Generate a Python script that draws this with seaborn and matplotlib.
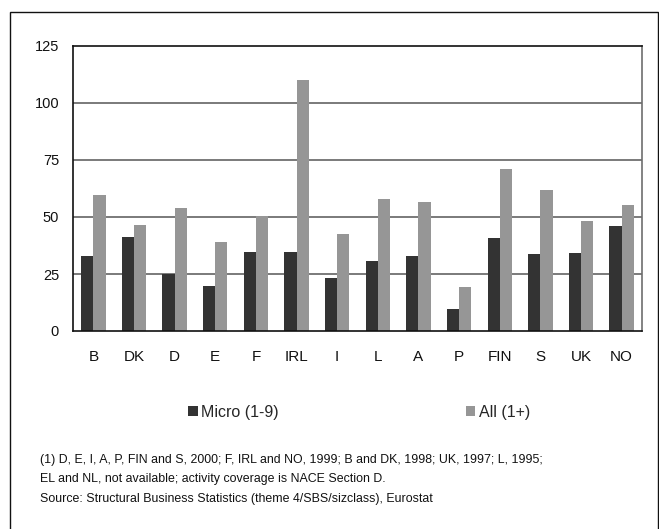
import matplotlib
matplotlib.use("Agg")
import matplotlib.pyplot as plt
from matplotlib.patches import Rectangle, Patch
import seaborn as sns
import pandas as pd

# Countries and values per size class
countries = ["B", "DK", "D", "E", "F", "IRL", "I", "L", "A", "P", "FIN", "S", "UK", "NO"]
micro = [32.8, 41.1, 25.0, 19.7, 34.5, 34.5, 23.1, 30.6, 32.8, 9.5, 40.7, 33.7, 34.1, 46.0]
all_sizes = [59.5, 46.4, 53.8, 38.9, 50.3, 110.0, 42.5, 57.8, 56.5, 19.2, 71.0, 61.8, 48.2, 55.2]
series_names = ["Micro (1-9)", "All (1+)"]
series_colors = ["#333333", "#969696"]
y_ticks = [0, 25, 50, 75, 100, 125]

footnotes = [
    "(1) D, E, I, A, P, FIN and S, 2000; F, IRL and NO, 1999; B and DK, 1998; UK, 1997; L, 1995;",
    "EL and NL, not available; activity coverage is NACE Section D.",
    "Source: Structural Business Statistics (theme 4/SBS/sizclass), Eurostat",
]

df = pd.DataFrame({
    "country": countries * 2,
    "value": micro + all_sizes,
    "series": [series_names[0]] * len(countries) + [series_names[1]] * len(countries),
})

sns.set_theme(style="white")
plt.rcParams["font.family"] = ["Liberation Sans", "DejaVu Sans"]

W, H = 659, 529
fig = plt.figure(figsize=(W / 100, H / 100), dpi=100)
fig.patch.set_facecolor("white")

# Outer frame around the whole chart
fig.patches.append(Rectangle((10 / W, -0.05), (658 - 10) / W, 1 - 12 / H + 0.05,
                             transform=fig.transFigure, fill=False,
                             edgecolor="#111111", linewidth=1.0, zorder=0))

ax = fig.add_axes([73 / W, 1 - 331 / H, (642 - 73) / W, (331 - 46) / H])

sns.barplot(data=df, x="country", y="value", hue="series", order=countries,
            hue_order=series_names, palette=series_colors, width=0.6,
            saturation=1, dodge=True, ax=ax, legend=False)
for p in ax.patches:
    p.set_edgecolor("none")

ax.set_ylim(0, 125)
ax.set_yticks(y_ticks)
ax.set_yticklabels([str(t) for t in y_ticks])
ax.set_xlim(-0.5, len(countries) - 0.5)
ax.set_xlabel("")
ax.set_ylabel("")

for v in y_ticks[1:-1]:
    ax.axhline(v, color="#7a7a7a", linewidth=1.4, zorder=0.5)

ax.tick_params(axis="y", length=0, pad=10, labelsize=10.5, labelcolor="#111111")
ax.tick_params(axis="x", length=0, pad=14, labelsize=11, labelcolor="#111111")

for side in ["top", "left", "bottom"]:
    ax.spines[side].set_visible(True)
    ax.spines[side].set_color("#111111")
    ax.spines[side].set_linewidth(1.2)
ax.spines["right"].set_visible(True)
ax.spines["right"].set_color("#6e6e6e")
ax.spines["right"].set_linewidth(1.2)
ax.grid(False)

# Legend, two entries spread across the width
handles = [Patch(facecolor=c, edgecolor="none") for c in series_colors]
fig.legend(handles, series_names, loc="center left",
           bbox_to_anchor=(188 / W, 1 - 412 / H), ncol=2, frameon=False,
           fontsize=11.5, handlelength=0.62, handleheight=0.62,
           handletextpad=0.2, columnspacing=11.7, borderpad=0, borderaxespad=0)

# Footnotes
for i, line in enumerate(footnotes):
    fig.text(40 / W, 1 - (460 + i * 19.3) / H, line, fontsize=8.9,
             color="#111111", va="center", ha="left")

fig.savefig("out.png", dpi=100, facecolor="white")
